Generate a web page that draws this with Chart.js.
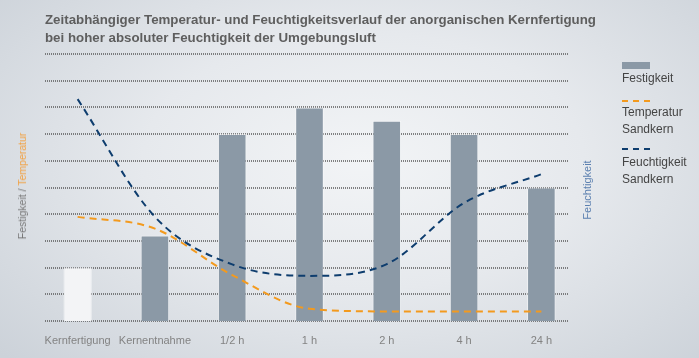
<!DOCTYPE html>
<html>
<head>
<meta charset="utf-8">
<script src="https://cdn.jsdelivr.net/npm/chart.js@4.4.1/dist/chart.umd.min.js"></script>
<style>
  html, body { margin: 0; padding: 0; }
  body {
    width: 699px; height: 358px; overflow: hidden; position: relative;
    font-family: "Liberation Sans", Arial, sans-serif;
    background: radial-gradient(ellipse 70% 80% at 52% 45%, #f2f4f6 0%, #e6e9ed 45%, #ccd2d9 100%);
  }
  #chart { position: absolute; left: 0; top: 0; }
  .title {
    position: absolute; left: 45px; top: 11px;
    font-size: 13.3px; font-weight: bold; color: #5e5e5e; line-height: 18px;
  }
  .ytitle {
    position: absolute; white-space: nowrap;
    transform: translate(-50%, -50%) rotate(-90deg);
  }
  .legend { position: absolute; left: 622px; top: 0; font-size: 12px; color: #444; line-height: 16.5px; }
  .legend .sw { position: absolute; left: 0; width: 28px; }
  .legend .tx { position: absolute; left: 0; white-space: nowrap; }
</style>
</head>
<body>
<canvas id="chart" width="699" height="358"></canvas>
<div class="title">Zeitabhängiger Temperatur- und Feuchtigkeitsverlauf der anorganischen Kernfertigung<br>bei hoher absoluter Feuchtigkeit der Umgebungsluft</div>
<div class="ytitle" style="left:22px; top:186px; font-size:10.5px; color:#777;">Festigkeit / <span style="color:#f2a040;">Temperatur</span></div>
<div class="ytitle" style="left:587px; top:190px; font-size:11px; color:#5c80b0;">Feuchtigkeit</div>
<div class="legend">
  <div class="sw" style="top:62px; height:7px; background:#8b99a6;"></div>
  <div class="tx" style="top:70px;">Festigkeit</div>
  <div class="sw" style="top:100px; height:2px; background:repeating-linear-gradient(90deg,#f39a1e 0 6px,transparent 6px 11px);"></div>
  <div class="tx" style="top:104px;">Temperatur<br>Sandkern</div>
  <div class="sw" style="top:148px; height:2px; background:repeating-linear-gradient(90deg,#0e3d6e 0 6px,transparent 6px 11px);"></div>
  <div class="tx" style="top:154px;">Feuchtigkeit<br>Sandkern</div>
</div>
<script>
const categories = ['Kernfertigung', 'Kernentnahme', '1/2 h', '1 h', '2 h', '4 h', '24 h'];
const festigkeit = [2, 3.2, 7, 8, 7.5, 7, 5];
const temperatur = [3.9, 3.46, 1.72, 0.46, 0.36, 0.36, 0.36];
const feuchtigkeit = [8.31, 3.9, 2.12, 1.69, 2.13, 4.42, 5.5];
const gridValues = [0, 1, 2, 3, 4, 5, 6, 7, 8, 9, 10];

const barColors = festigkeit.map((v, i) => i === 0 ? '#f3f4f6' : '#8b99a6');

// dotted horizontal grid, drawn behind the bars
const dottedGrid = {
  id: 'dottedGrid',
  beforeDatasetsDraw(chart) {
    const { ctx, chartArea, scales } = chart;
    ctx.save();
    ctx.strokeStyle = 'rgba(80,80,80,0.7)';
    ctx.lineWidth = 2;
    ctx.setLineDash([1, 1]);
    gridValues.forEach(v => {
      const y = Math.round(scales.y.getPixelForValue(v));
      ctx.beginPath();
      ctx.moveTo(chartArea.left + 6, y);
      ctx.lineTo(chartArea.right - 12, y);
      ctx.stroke();
    });
    ctx.restore();
  }
};

new Chart(document.getElementById('chart'), {
  data: {
    labels: categories,
    datasets: [
      {
        type: 'line', label: 'Feuchtigkeit Sandkern', data: feuchtigkeit, order: 0,
        borderColor: '#0e3d6e', borderWidth: 2, borderDash: [7, 5],
        pointRadius: 0, cubicInterpolationMode: 'monotone', fill: false
      },
      {
        type: 'line', label: 'Temperatur Sandkern', data: temperatur, order: 1,
        borderColor: '#f39a1e', borderWidth: 2, borderDash: [7, 5],
        pointRadius: 0, cubicInterpolationMode: 'monotone', fill: false
      },
      {
        type: 'bar', label: 'Festigkeit', data: festigkeit, order: 2,
        backgroundColor: barColors, borderColor: 'rgba(255,255,255,0.45)', borderWidth: 1,
        categoryPercentage: 1, barPercentage: 0.37
      }
    ]
  },
  options: {
    responsive: false,
    animation: false,
    layout: { padding: { top: 54, right: 119, left: 0, bottom: 0 } },
    plugins: { legend: { display: false }, tooltip: { enabled: false } },
    scales: {
      x: {
        offset: true,
        grid: { display: false },
        border: { display: false },
        ticks: { color: '#838383', font: { family: 'Liberation Sans', size: 11 }, padding: 5, maxRotation: 0, autoSkip: false },
        afterFit(scale) { scale.height = 37; }
      },
      y: {
        min: 0, max: 10,
        grid: { display: false },
        border: { display: false },
        ticks: { display: false },
        afterFit(scale) { scale.width = 39; }
      }
    }
  },
  plugins: [dottedGrid]
});
</script>
</body>
</html>
